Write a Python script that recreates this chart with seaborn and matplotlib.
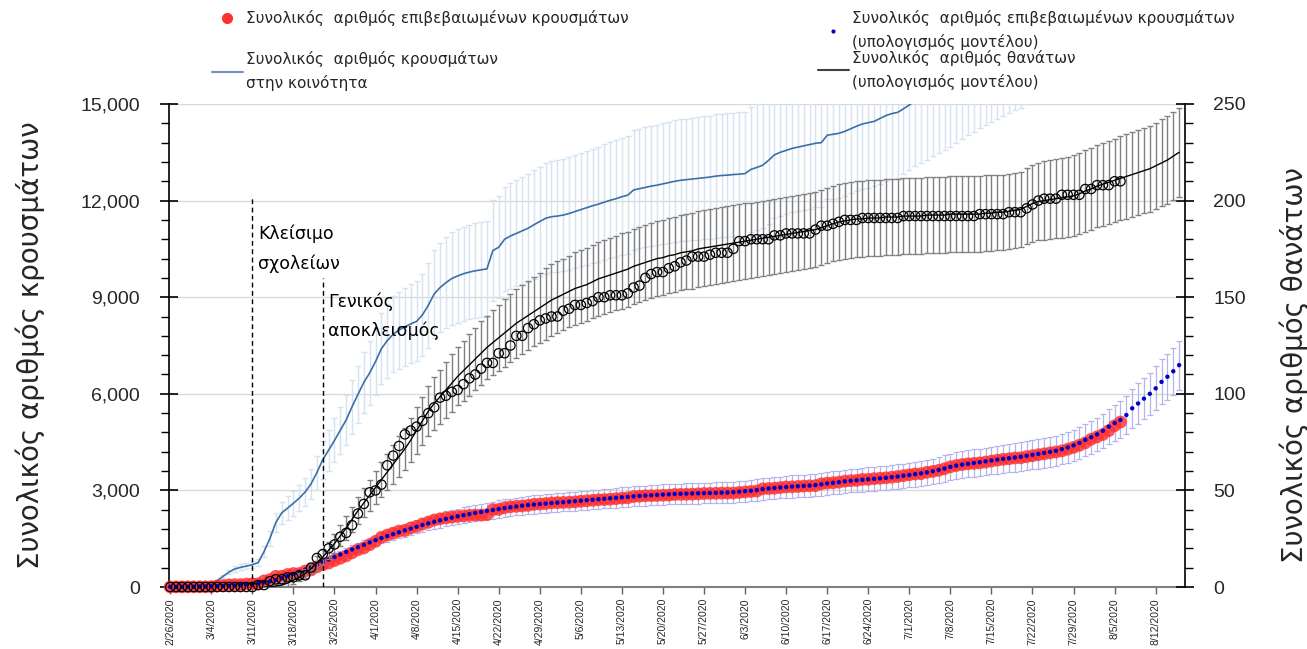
import matplotlib
matplotlib.use("Agg")
import matplotlib.pyplot as plt
from matplotlib.lines import Line2D
from matplotlib.ticker import MultipleLocator, FuncFormatter
import pandas as pd
import seaborn as sns

start = "2020-02-26"

# observed cumulative confirmed cases, daily from 2/26
cases_obs = [
    1, 3, 4, 7, 7, 7, 7, 9, 31, 45, 66, 73, 73, 89, 99, 99, 190, 228, 331, 331,
    387, 418, 418, 495, 530, 624, 695, 743, 821, 892, 966, 1061, 1156, 1212, 1314,
    1415, 1544, 1613, 1673, 1735, 1755, 1832, 1884, 1955, 2011, 2081, 2114, 2145, 2170, 2192,
    2207, 2224, 2235, 2235, 2245, 2401, 2408, 2463, 2490, 2506, 2517, 2534, 2566, 2576, 2591,
    2612, 2620, 2626, 2632, 2642, 2663, 2678, 2691, 2710, 2716, 2726, 2744, 2760, 2770, 2810,
    2819, 2834, 2836, 2840, 2850, 2853, 2873, 2876, 2878, 2882, 2892, 2903, 2906, 2909, 2915, 2917,
    2918, 2937, 2952, 2967, 2980, 3049, 3058, 3068, 3088, 3108, 3112, 3121, 3134, 3143, 3148,
    3203, 3227, 3237, 3256, 3287, 3302, 3310, 3340, 3343, 3366, 3376, 3390, 3409, 3432, 3458,
    3486, 3511, 3519, 3562, 3589, 3622, 3672, 3732, 3772, 3803, 3826, 3839, 3854, 3879, 3910,
    3939, 3964, 3983, 4007, 4012, 4048, 4077, 4109, 4135, 4166, 4193, 4227, 4279, 4336, 4401, 4477,
    4587, 4662, 4737, 4855, 5010, 5123,
]

# observed cumulative deaths, daily from 2/26
deaths_obs = [
    0, 0, 0, 0,
    0, 0, 0, 0, 0, 0, 0, 0, 0, 0, 0, 1, 1, 3, 4, 4, 5, 5, 6, 6, 10, 15, 17, 20, 22, 26,
    28, 32, 38, 43, 49,
    50, 53, 63, 68, 73, 79, 81, 83, 86, 90, 93, 98, 99, 101, 102, 105, 108, 110, 113, 116,
    116, 121, 121, 125, 130, 130, 134, 136, 138, 139,
    140, 140, 143, 144, 146, 146, 147, 148, 150, 150, 151, 151, 151, 152, 155, 156, 160, 162,
    163, 163, 165, 166, 168, 169, 171, 171, 171, 172, 173, 173, 173,
    175, 179, 179, 180, 180, 180, 180, 182, 182, 183, 183, 183, 183, 183, 185, 187, 187, 188,
    189, 190, 190, 190, 191, 191, 191, 191, 191, 191, 191, 192,
    192, 192, 192, 192, 192, 192, 192, 192, 192, 192, 192, 192, 193, 193, 193, 193, 193,
    194, 194, 194, 196, 198, 200, 201, 201, 201, 203, 203, 203, 203, 206,
    206, 208, 208, 208, 210, 210,
]

# model: confirmed cases, daily from 2/26
cases_model = [
    3, 5, 7, 9, 11, 14, 17, 21, 26, 32,
    40, 50, 62, 77, 96, 119, 146, 178, 215, 275,
    340, 405, 470, 540, 615, 700, 780, 855, 930, 1010,
    1090, 1165, 1235, 1310, 1385, 1455, 1520, 1580, 1640, 1700,
    1760, 1815, 1870, 1925, 1975, 2025, 2070, 2115, 2155, 2195,
    2230, 2265, 2300, 2330, 2360, 2390, 2420, 2450, 2475, 2500,
    2525, 2545, 2560, 2575, 2590, 2605, 2620, 2635, 2650, 2665,
    2680, 2695, 2710, 2725, 2740, 2755, 2770, 2785, 2800, 2815,
    2830, 2840, 2850, 2860, 2870, 2880, 2890, 2895, 2900, 2905,
    2910, 2915, 2920, 2925, 2930, 2935, 2945, 2960, 2975, 2990,
    3010, 3040, 3060, 3075, 3090, 3105, 3120, 3130, 3140, 3150,
    3165, 3190, 3215, 3235, 3255, 3280, 3300, 3315, 3330, 3345,
    3360, 3375, 3390, 3410, 3430, 3455, 3480, 3505, 3530, 3560,
    3595, 3635, 3680, 3730, 3770, 3800, 3825, 3850, 3875, 3900,
    3930, 3955, 3980, 4000, 4020, 4045, 4075, 4105, 4135, 4165,
    4195, 4230, 4280, 4335, 4400, 4475, 4570, 4650, 4740, 4850,
    4980, 5090, 5190, 5340, 5550, 5700, 5850, 6000, 6170, 6370,
    6530, 6700, 6890,
]
cases_model_err = [
    0, 1, 1, 1, 1, 2, 2, 2, 3, 4,
    4, 6, 7, 8, 11, 13, 16, 20, 24, 30,
    37, 45, 52, 59, 68, 77, 86, 94, 102, 111,
    120, 128, 136, 144, 152, 160, 167, 174, 180, 187,
    194, 200, 206, 212, 217, 223, 228, 232, 237, 240,
    244, 247, 250, 252, 255, 264, 267, 271, 273, 276,
    278, 280, 282, 283, 285, 287, 288, 290, 292, 293,
    295, 296, 298, 300, 301, 303, 305, 306, 308, 310,
    311, 312, 314, 315, 316, 317, 318, 318, 319, 320,
    320, 321, 321, 322, 322, 323, 324, 326, 327, 329,
    331, 334, 337, 338, 340, 342, 343, 344, 345, 347,
    348, 351, 354, 356, 358, 361, 363, 365, 366, 368,
    370, 371, 373, 375, 377, 380, 383, 386, 388, 392,
    395, 400, 405, 410, 415, 418, 421, 424, 426, 429,
    432, 435, 438, 440, 442, 445, 448, 452, 455, 458,
    461, 465, 471, 477, 484, 492, 503, 512, 521, 534,
    548, 560, 571, 587, 611, 627, 644, 660, 679, 701,
    718, 737, 758,
]

# model: cases in the community, daily from 3/4
community_start = "2020-03-04"
community = [
    100, 200, 330, 460, 560, 610, 650, 690, 760, 1100,
    1510, 2000, 2300, 2450, 2600, 2760, 2950, 3200, 3550, 3950,
    4250, 4550, 4870, 5190, 5600, 5980, 6350, 6650, 7000, 7400,
    7650, 7850, 7980, 8080, 8170, 8250, 8450, 8750, 9100, 9300,
    9450, 9580, 9660, 9730, 9780, 9820, 9850, 9880, 10450, 10550,
    10800, 10900, 10980, 11060, 11140, 11250, 11350, 11450, 11500, 11520,
    11550, 11600, 11660, 11720, 11780, 11840, 11890, 11950, 12010, 12060,
    12120, 12170, 12330, 12370, 12410, 12450, 12480, 12520, 12560, 12600,
    12630, 12650, 12670, 12690, 12710, 12730, 12760, 12780, 12790, 12810,
    12820, 12840, 12970, 13030, 13100, 13250, 13420, 13500, 13560, 13620,
    13660, 13700, 13740, 13780, 13800, 14030, 14060, 14090, 14150, 14230,
    14310, 14380, 14420, 14460, 14550, 14640, 14700, 14740, 14850, 14970,
    15100, 15220, 15350, 15470, 15590, 15710, 15830, 15980, 16120, 16260,
    16380, 16500, 16620, 16740, 16860, 16960, 17060, 17160, 17260, 17370,
]
community_err = [
    15, 30, 50, 70, 84, 92, 98, 104, 114, 165,
    227, 300, 345, 368, 390, 414, 443, 480, 533, 593,
    638, 683, 731, 779, 840, 897, 953, 998, 1050, 1110,
    1148, 1178, 1197, 1212, 1226, 1238, 1268, 1313, 1365, 1395,
    1418, 1437, 1449, 1460, 1467, 1473, 1478, 1482, 1568, 1583,
    1620, 1635, 1647, 1659, 1671, 1688, 1703, 1718, 1725, 1728,
    1733, 1740, 1749, 1758, 1767, 1776, 1784, 1793, 1802, 1809,
    1818, 1826, 1850, 1856, 1862, 1868, 1872, 1878, 1884, 1890,
    1895, 1898, 1901, 1904, 1907, 1910, 1914, 1917, 1919, 1922,
    1923, 1926, 1946, 1955, 1960, 1965, 1970, 1972, 1975, 1978,
    1980, 1983, 1986, 1989, 1992, 1995, 1998, 2001, 2004, 2007,
    2010, 2013, 2016, 2019, 2022, 2024, 2026, 2028, 2030, 2030,
    2040, 2060, 2080, 2100, 2120, 2140, 2160, 2180, 2200, 2220,
    2240, 2260, 2280, 2300, 2320, 2340, 2350, 2360, 2370, 2380,
]

# model: deaths, daily from 3/13
deaths_model_start = "2020-03-13"
deaths_model = [
    0, 0, 0.5, 1, 2, 3.5, 5, 7, 9.5, 12.5,
    15.5, 19, 22.5, 26.5, 30.5, 35, 39.5, 43.5, 47.5, 51.5,
    55.5, 59.5, 63.5, 67.5, 71.5, 76, 81, 86, 91, 95,
    98.5, 102, 105.5, 109, 112, 115, 118, 121, 124, 126.5,
    129, 131.5, 134, 136.5, 138.5, 140.5, 142.5, 144.5, 146.5, 148.5,
    150, 151.5, 153, 154.5, 155.5, 156.5, 158, 159.5, 160.5, 161.5,
    162.5, 163.5, 164.5, 166, 167, 168, 169, 170, 170.5, 171.5,
    172, 173, 173.5, 174, 175, 175.5, 176, 176.5, 177, 177.5,
    178, 178.5, 179, 179.5, 180, 180.5, 181, 181.5, 182, 182.5,
    183, 183.5, 184, 184.5, 185, 186, 187, 188, 189, 189.5,
    190, 190.5, 190.5, 191, 191, 191, 191.5, 191.5, 191.5, 192,
    192, 192, 192, 192.5, 192.5, 192.5, 192.5, 193, 193, 193,
    193, 193, 193, 193.5, 193.5, 194, 194, 194.5, 195, 195.5,
    197, 198.5, 199.5, 200, 200.5, 201, 201.5, 202, 202.5, 203.5,
    205, 206, 207.5, 208.5, 209.5, 210.5, 211.5, 212.5, 213.5, 214.5,
    215.5, 216.5, 218, 219.5, 221, 223, 225,
]
deaths_model_err = [
    0.5, 0.5, 1, 1, 1.5, 2, 2, 2.5, 3, 3.5,
    4, 4.5, 5, 5.5, 6, 6.5, 7, 7.5, 8, 8.5,
    9, 9.5, 10, 10.5, 11, 11.5, 12, 12.5, 13, 13.5,
    14, 14.5, 15, 15, 15.5, 16, 16, 16.5, 16.5, 17,
    17, 17.5, 17.5, 18, 18, 18, 18, 18, 18.5, 18.5,
    18.5, 18.5, 18.5, 19, 19, 19, 19, 19, 19, 19,
    19, 19.5, 19.5, 19.5, 19.5, 19.5, 19.5, 19.5, 19.5, 19.5,
    19.5, 19.5, 19.5, 19.5, 19.5, 19.5, 19.5, 19.5, 19.5, 19.5,
    19.5, 19.5, 19.5, 19.5, 19.5, 19.5, 19.5, 19.5, 19.5, 19.5,
    19.5, 19.5, 19.5, 19.5, 19.5, 19.5, 19.5, 19.5, 19.5, 19.5,
    19.5, 19.5, 19.5, 19.5, 19.5, 19.5, 19.5, 19.5, 19.5, 19.5,
    19.5, 19.5, 19.5, 19.5, 19.5, 19.5, 19.5, 19.5, 19.5, 19.5,
    19.5, 19.5, 19.5, 19.5, 19.5, 19.5, 19.5, 19.5, 19.5, 19.5,
    19.7, 19.9, 20.1, 20.3, 20.5, 20.6, 20.7, 20.8, 20.9, 21,
    21.1, 21.2, 21.3, 21.4, 21.5, 21.6, 21.7, 21.8, 21.9, 22,
    22.1, 22.2, 22.4, 22.5, 22.6, 22.8, 23,
]

event_dates = ["2020-03-11", "2020-03-23"]
event_labels = ["Κλείσιμο\nσχολείων", "Γενικός\nαποκλεισμός"]

legend_labels = [
    "Συνολικός  αριθμός επιβεβαιωμένων κρουσμάτων",
    "Συνολικός  αριθμός κρουσμάτων\nστην κοινότητα",
    "Συνολικός  αριθμός επιβεβαιωμένων κρουσμάτων\n(υπολογισμός μοντέλου)",
    "Συνολικός  αριθμός θανάτων\n(υπολογισμός μοντέλου)",
]

red = "#ff3030"
blue_dot = "#0000c8"
lavender = "#b3b3ee"
comm_blue = "#3b6fa8"
comm_light = "#d6e1f2"
grey_bar = "#808080"

sns.set_theme(style="white")
plt.rcParams["font.family"] = ["DejaVu Sans"]

fig = plt.figure(figsize=(13.07, 6.49), dpi=100)
ax1 = fig.add_axes([169 / 1307, 1 - 587 / 649, (1185 - 169) / 1307, (587 - 104) / 649])
ax2 = ax1.twinx()

obs_dates = pd.date_range(start, periods=len(cases_obs))
model_dates = pd.date_range(start, periods=len(cases_model))
comm_dates = pd.date_range(community_start, periods=len(community))
dm_dates = pd.date_range(deaths_model_start, periods=len(deaths_model))

# cases axis
ax1.errorbar(comm_dates, community, yerr=community_err, fmt="none",
             ecolor=comm_light, elinewidth=1, capsize=2.5, capthick=1, zorder=1)
sns.lineplot(x=comm_dates, y=community, ax=ax1, color=comm_blue, linewidth=1.2, zorder=2)
ax1.errorbar(model_dates, cases_model, yerr=cases_model_err, fmt="none",
             ecolor=lavender, elinewidth=0.9, capsize=2.5, capthick=0.9, zorder=3)
sns.scatterplot(x=obs_dates, y=cases_obs, ax=ax1, color=red, s=85, alpha=0.82,
                edgecolor="none", zorder=4, clip_on=False)
sns.scatterplot(x=model_dates, y=cases_model, ax=ax1, color=blue_dot, s=10,
                edgecolor="none", zorder=5, clip_on=False)

# deaths axis
ax2.errorbar(dm_dates, deaths_model, yerr=deaths_model_err, fmt="none",
             ecolor=grey_bar, elinewidth=1, capsize=2.5, capthick=1, zorder=1)
sns.lineplot(x=dm_dates, y=deaths_model, ax=ax2, color="black", linewidth=1, zorder=2)
sns.scatterplot(x=obs_dates, y=deaths_obs, ax=ax2, s=45, facecolor="none",
                edgecolor="black", linewidth=0.9, zorder=3, clip_on=False)

# event markers
event_tops = [12100, 9600]
label_tops = [11250, 9150]
for d, lab, top, ty in zip(event_dates, event_labels, event_tops, label_tops):
    ax1.vlines(pd.Timestamp(d), 0, top, colors="black", linestyles=(0, (3.5, 2.5)), linewidth=1, zorder=6)
    ax1.annotate(lab, xy=(pd.Timestamp(d), ty), xytext=(4, 0), textcoords="offset points",
                 ha="left", va="top", fontsize=12.5, linespacing=1.75, color="black")

# axes formatting
ax1.set_xlim(pd.Timestamp(start) - pd.Timedelta(hours=5), pd.Timestamp(start) + pd.Timedelta(days=173))
ax1.set_ylim(0, 15000)
ax2.set_ylim(0, 250)
ax1.yaxis.set_major_locator(MultipleLocator(3000))
ax1.yaxis.set_minor_locator(MultipleLocator(600))
ax2.yaxis.set_major_locator(MultipleLocator(50))
ax2.yaxis.set_minor_locator(MultipleLocator(10))
ax1.yaxis.set_major_formatter(FuncFormatter(lambda v, p: f"{v:,.0f}"))

tick_dates = model_dates[::7]
ax1.set_xticks(tick_dates)
ax1.set_xticklabels([f"{d.month}/{d.day}/{d.year}" for d in tick_dates], rotation=90,
                    fontsize=7.5, fontfamily="Liberation Sans")

ax1.grid(False)
ax2.grid(False)
ax1.yaxis.grid(True, which="major", color="#d9d9d9", linewidth=1)
ax1.set_axisbelow(True)

ax1.tick_params(axis="x", bottom=True, direction="out", length=5, width=1, color="#606060", pad=3)
ax1.tick_params(axis="y", which="major", left=True, direction="inout", length=13, width=1.2,
                color="black", labelsize=14, pad=14.5, labelfontfamily="Liberation Sans")
ax1.tick_params(axis="y", which="minor", left=True, direction="out", length=6, width=1, color="black")
ax2.tick_params(axis="y", which="major", right=True, direction="inout", length=13, width=1.2,
                color="black", labelsize=14, pad=14, labelfontfamily="Liberation Sans")
ax2.tick_params(axis="y", which="minor", right=True, direction="out", length=6, width=1, color="black")

for sp in ["top", "right"]:
    ax1.spines[sp].set_visible(False)
for sp in ["top", "left", "bottom"]:
    ax2.spines[sp].set_visible(False)
ax1.spines["left"].set_color("black")
ax1.spines["left"].set_linewidth(1.2)
ax2.spines["right"].set_color("black")
ax2.spines["right"].set_linewidth(1.2)
ax1.spines["bottom"].set_color("#7f7f7f")
ax1.spines["bottom"].set_linewidth(1.5)

ax1.set_xlabel("")
ax1.set_ylabel("Συνολικός αριθμός κρουσμάτων", fontsize=20)
ax2.set_ylabel("Συνολικός αριθμός θανάτων", fontsize=20)
ax1.yaxis.set_label_coords(-0.122, 0.5)
ax2.yaxis.set_label_coords(1.093, 0.46)

# legend (two columns above the plot)
h_red = Line2D([], [], marker="o", ls="none", mfc=red, mec="none", ms=8)
h_comm = Line2D([], [], color="#6f93c0", lw=1.5)
h_blue = Line2D([], [], marker="o", ls="none", mfc=blue_dot, mec="none", ms=3)
h_death = Line2D([], [], color="#404040", lw=1.5)

leg1 = fig.legend(handles=[h_red, h_comm], labels=legend_labels[:2], loc="upper left",
                  bbox_to_anchor=(212 / 1307, 1 - 10 / 649), frameon=False, fontsize=11,
                  handlelength=2.0, handletextpad=0.2, labelspacing=1.65, borderpad=0, borderaxespad=0)
leg2 = fig.legend(handles=[h_blue, h_death], labels=legend_labels[2:], loc="upper left",
                  bbox_to_anchor=(818 / 1307, 1 - 10 / 649), frameon=False, fontsize=11,
                  handlelength=2.0, handletextpad=0.2, labelspacing=0.0, borderpad=0, borderaxespad=0)
for lg in (leg1, leg2):
    for t in lg.get_texts():
        t.set_linespacing(1.6)

fig.savefig("out.png", dpi=100)
